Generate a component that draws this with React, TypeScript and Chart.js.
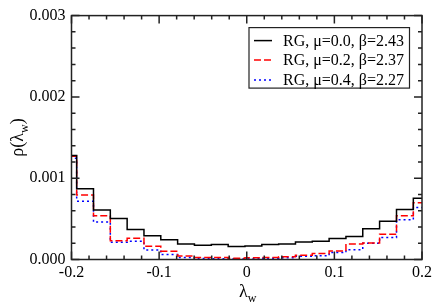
import React, { useEffect, useRef } from "react";
import { Chart, registerables } from "chart.js";

Chart.register(...registerables);

// Bin edges of the histograms (lambda_w)
const binEdges = [
  -0.2133, -0.1941, -0.1749, -0.1557, -0.1365, -0.1173, -0.0981, -0.0789,
  -0.0597, -0.0404, -0.0212, -0.002, 0.0172, 0.0364, 0.0556, 0.0748, 0.094,
  0.1132, 0.1324, 0.1516, 0.1709, 0.1901, 0.2093,
];

const seriesLabels = [
  "RG, μ=0.0, β=2.43",
  "RG, μ=0.2, β=2.37",
  "RG, μ=0.4, β=2.27",
];

// rho(lambda_w) per bin
const rhoMu00 = [
  0.00128, 0.00087, 0.000608, 0.000505, 0.00037, 0.000291, 0.000243, 0.000192,
  0.000176, 0.000184, 0.00016, 0.000165, 0.000185, 0.00019, 0.000215, 0.000225,
  0.000259, 0.000283, 0.000378, 0.000469, 0.000615, 0.000754,
];
const rhoMu02 = [
  0.00127, 0.000793, 0.000537, 0.000232, 0.00026, 0.000162, 0.000103, 0.000043,
  0.000026, 0.000025, 0.000015, 0.00002, 0.000025, 0.000033, 0.000053, 0.000074,
  0.000105, 0.000192, 0.000204, 0.000311, 0.000537, 0.000698,
];
const rhoMu04 = [
  0.001245, 0.000718, 0.000461, 0.000211, 0.000223, 0.000118, 0.00006, 0.000026,
  0.000012, 0.00001, 0.00001, 0.00001, 0.000015, 0.00002, 0.00004, 0.000045,
  0.000086, 0.000121, 0.0002, 0.000271, 0.000489, 0.00064,
];

const seriesColors = ["#000000", "#ff0000", "#0000ff"];
const seriesDashes = [[], [7, 3], [2, 3]];

const xMin = -0.2;
const xMax = 0.2;
const yMin = 0;
const yMax = 0.003;
const xMajorStep = 0.1;
const xMinorStep = 0.02;
const yMajorStep = 0.001;
const yMinorStep = 0.0002;

const FONT = '"Liberation Serif", "Times New Roman", serif';

function toSteps(vals: number[]) {
  return binEdges.map((x, i) => ({ x, y: vals[Math.min(i, vals.length - 1)] }));
}

const framePlugin = {
  id: "frameTicks",
  afterDatasetsDraw(chart: any) {
    const { ctx, chartArea } = chart;
    const { left, right, top, bottom } = chartArea;
    const xs = chart.scales.x;
    const ys = chart.scales.y;
    ctx.save();
    ctx.strokeStyle = "#222";
    ctx.lineWidth = 1.5;
    ctx.setLineDash([]);
    ctx.strokeRect(left, top, right - left, bottom - top);
    const majorLen = 8;
    const minorLen = 4;
    ctx.beginPath();
    const nx = Math.round((xMax - xMin) / xMinorStep);
    const perX = Math.round(xMajorStep / xMinorStep);
    for (let k = 0; k <= nx; k++) {
      const v = xMin + k * xMinorStep;
      const px = xs.getPixelForValue(v);
      const len = k % perX === 0 ? majorLen : minorLen;
      ctx.moveTo(px, bottom);
      ctx.lineTo(px, bottom - len);
      ctx.moveTo(px, top);
      ctx.lineTo(px, top + len);
    }
    const ny = Math.round((yMax - yMin) / yMinorStep);
    const perY = Math.round(yMajorStep / yMinorStep);
    for (let k = 0; k <= ny; k++) {
      const v = yMin + k * yMinorStep;
      const py = ys.getPixelForValue(v);
      const len = k % perY === 0 ? majorLen : minorLen;
      ctx.moveTo(left, py);
      ctx.lineTo(left + len, py);
      ctx.moveTo(right, py);
      ctx.lineTo(right - len, py);
    }
    ctx.stroke();
    ctx.restore();
  },
  afterDraw(chart: any) {
    const { ctx, chartArea } = chart;
    const { left, right, top, bottom } = chartArea;
    ctx.save();
    ctx.fillStyle = "#000";
    ctx.textBaseline = "alphabetic";

    // X axis title: lambda_w
    const cx = (left + right) / 2;
    ctx.font = `18px ${FONT}`;
    const lamW = ctx.measureText("λ").width;
    ctx.font = `12px ${FONT}`;
    const wW = ctx.measureText("w").width;
    const startX = cx - (lamW + wW) / 2 + 1;
    ctx.font = `18px ${FONT}`;
    ctx.textAlign = "left";
    ctx.fillText("λ", startX, 297);
    ctx.font = `12px ${FONT}`;
    ctx.fillText("w", startX + lamW, 302);

    // Y axis title: rho(lambda_w)
    ctx.save();
    const cy = (top + bottom) / 2;
    ctx.translate(23, cy);
    ctx.rotate(-Math.PI / 2);
    ctx.font = `18px ${FONT}`;
    const p1 = "ρ(λ";
    const p3 = ")";
    const w1 = ctx.measureText(p1).width;
    const w3 = ctx.measureText(p3).width;
    ctx.font = `12px ${FONT}`;
    const w2 = ctx.measureText("w").width;
    let x0 = -(w1 + w2 + w3) / 2;
    ctx.font = `18px ${FONT}`;
    ctx.fillText(p1, x0, 0);
    ctx.font = `12px ${FONT}`;
    ctx.fillText("w", x0 + w1, 5);
    ctx.font = `18px ${FONT}`;
    ctx.fillText(p3, x0 + w1 + w2, 0);
    ctx.restore();

    // Legend
    const boxRight = right - 12.5;
    const boxLeft = 249;
    const boxTop = top + 12;
    const boxBottom = top + 72.5;
    ctx.fillStyle = "#fff";
    ctx.fillRect(boxLeft, boxTop, boxRight - boxLeft, boxBottom - boxTop);
    ctx.strokeStyle = "#222";
    ctx.lineWidth = 1.2;
    ctx.setLineDash([]);
    ctx.strokeRect(boxLeft, boxTop, boxRight - boxLeft, boxBottom - boxTop);
    const rowY = [top + 25, top + 44.5, top + 64.5];
    ctx.font = `16px ${FONT}`;
    ctx.textBaseline = "middle";
    ctx.textAlign = "left";
    seriesLabels.forEach((lab, i) => {
      ctx.strokeStyle = seriesColors[i];
      ctx.lineWidth = 1.5;
      ctx.setLineDash(seriesDashes[i]);
      ctx.beginPath();
      ctx.moveTo(boxLeft + 5, rowY[i]);
      ctx.lineTo(boxLeft + 23, rowY[i]);
      ctx.stroke();
      ctx.fillStyle = "#000";
      ctx.fillText(lab, boxLeft + 34, rowY[i] + 1);
    });
    ctx.restore();
  },
};

export default function App() {
  const ref = useRef<HTMLCanvasElement | null>(null);
  useEffect(() => {
    if (!ref.current) return;
    const allSeries = [rhoMu00, rhoMu02, rhoMu04];
    const chart = new Chart(ref.current, {
      type: "line",
      data: {
        datasets: allSeries.map((vals, i) => ({
          label: seriesLabels[i],
          data: toSteps(vals),
          borderColor: seriesColors[i],
          borderWidth: 1.5,
          borderDash: seriesDashes[i],
          stepped: "before" as any,
          pointRadius: 0,
          fill: false,
          clip: 0 as any,
        })),
      },
      options: {
        animation: false,
        responsive: false,
        devicePixelRatio: 1,
        layout: { padding: { top: 7, right: 10.5, left: 0, bottom: 0 } },
        plugins: {
          legend: { display: false },
          tooltip: { enabled: false },
        },
        scales: {
          x: {
            type: "linear",
            min: xMin,
            max: xMax,
            grid: { display: false, drawTicks: false },
            border: { display: false },
            afterFit: (s: any) => {
              s.height = 46.5;
            },
            ticks: {
              stepSize: xMajorStep,
              padding: 4,
              color: "#000",
              font: { family: FONT, size: 16 },
              maxRotation: 0,
              callback: (v: any) => {
                const n = Number(v);
                if (Math.abs(n) < 1e-9) return "0";
                return n.toFixed(1);
              },
            },
          },
          y: {
            type: "linear",
            min: yMin,
            max: yMax,
            grid: { display: false, drawTicks: false },
            border: { display: false },
            afterFit: (s: any) => {
              s.width = 71.5;
            },
            ticks: {
              stepSize: yMajorStep,
              padding: 6,
              color: "#000",
              font: { family: FONT, size: 16 },
              callback: (v: any) => Number(v).toFixed(3),
            },
          },
        },
      },
      plugins: [framePlugin],
    });
    return () => chart.destroy();
  }, []);
  return (
    <div style={{ position: "absolute", left: 0, top: 0, width: 436, height: 306, background: "#fff" }}>
      <canvas ref={ref} width={436} height={306} style={{ display: "block" }} />
    </div>
  );
}
